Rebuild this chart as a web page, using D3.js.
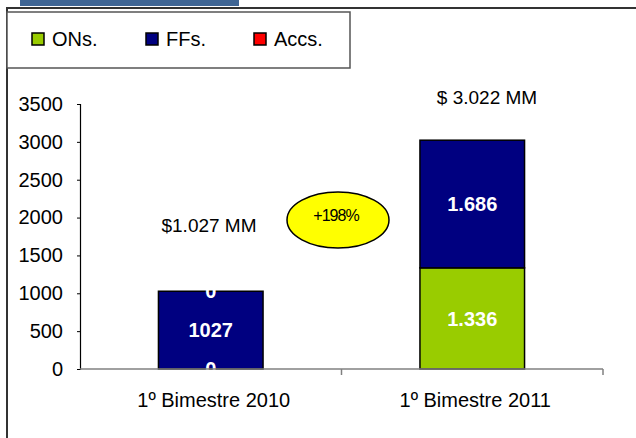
<!DOCTYPE html>
<html>
<head>
<meta charset="utf-8">
<script src="https://cdn.jsdelivr.net/npm/d3@7"></script>
<style>
  body { margin: 0; background: #fff; }
  svg text { font-family: "Liberation Sans", Arial, sans-serif; }
</style>
</head>
<body>
<div id="chart"></div>
<script>
// data
const categories = ["1º Bimestre 2010", "1º Bimestre 2011"];
const seriesNames = ["ONs.", "FFs.", "Accs."];
const seriesColors = ["#99cc00", "#000080", "#ff0000"];
const valuesONs = [0, 1336];
const valuesFFs = [1027, 1686];
const valuesAccs = [0, 0];
const labelsONs = ["0", "1.336"];
const labelsFFs = ["1027", "1.686"];
const labelsAccs = ["0", ""];
const totalLabels = ["$1.027 MM", "$ 3.022 MM"];
const growthLabel = "+198%";
const yTicks = [0, 500, 1000, 1500, 2000, 2500, 3000, 3500];

const width = 636;
const height = 438;

const svg = d3.select("#chart").append("svg")
    .attr("width", width)
    .attr("height", height);

// frame decorations
svg.append("rect")
    .attr("x", 20).attr("y", 0)
    .attr("width", 219).attr("height", 6)
    .attr("fill", "#3f6594");

svg.append("path")
    .attr("d", "M7,438 V8 H636")
    .attr("fill", "none")
    .attr("stroke", "#333")
    .attr("stroke-width", 2);

// legend
const legend = svg.append("g");
legend.append("rect")
    .attr("x", 7).attr("y", 12)
    .attr("width", 343).attr("height", 56)
    .attr("fill", "#fff")
    .attr("stroke", "#555")
    .attr("stroke-width", 1.5);

const legendX = [32, 146, 254];
seriesNames.forEach(function(name, i) {
    legend.append("rect")
        .attr("x", legendX[i]).attr("y", 33)
        .attr("width", 12).attr("height", 12)
        .attr("fill", seriesColors[i])
        .attr("stroke", "#000")
        .attr("stroke-width", 1.5);
    legend.append("text")
        .attr("x", legendX[i] + 20)
        .attr("y", 46)
        .attr("font-size", 20)
        .attr("fill", "#000")
        .text(name);
});

// scales
const xScale = d3.scaleBand()
    .domain(categories)
    .range([80, 603])
    .paddingInner(0.6)
    .paddingOuter(0.3);

const yScale = d3.scaleLinear()
    .domain([0, 3500])
    .range([369, 104]);

// stacked bars
const table = categories.map(function(c, i) {
    return { cat: c, "ONs.": valuesONs[i], "FFs.": valuesFFs[i], "Accs.": valuesAccs[i] };
});
const labelTable = [labelsONs, labelsFFs, labelsAccs];
const stacked = d3.stack().keys(seriesNames)(table);

const layers = svg.selectAll(".layer")
    .data(stacked)
    .enter()
    .append("g")
    .attr("class", "layer")
    .attr("fill", function(d, i) { return seriesColors[i]; });

layers.selectAll("rect")
    .data(function(d) { return d; })
    .enter()
    .append("rect")
    .attr("x", function(d) { return xScale(d.data.cat); })
    .attr("y", function(d) { return yScale(d[1]); })
    .attr("width", xScale.bandwidth())
    .attr("height", function(d) { return yScale(d[0]) - yScale(d[1]); })
    .attr("stroke", "#000")
    .attr("stroke-width", 1.5);

// data labels
stacked.forEach(function(layer, li) {
    svg.append("g").selectAll("text")
        .data(layer)
        .enter()
        .append("text")
        .attr("x", function(d) { return xScale(d.data.cat) + xScale.bandwidth() / 2; })
        .attr("y", function(d) { return (yScale(d[0]) + yScale(d[1])) / 2; })
        .attr("dy", "0.36em")
        .attr("text-anchor", "middle")
        .attr("font-size", 20)
        .attr("font-weight", "bold")
        .attr("fill", "#fff")
        .text(function(d, i) { return labelTable[li][i]; });
});

// y axis
const yaxis = d3.axisLeft(yScale)
    .tickValues(yTicks)
    .tickSize(3)
    .tickPadding(14)
    .tickFormat(d3.format("d"));

const gy = svg.append("g")
    .attr("transform", "translate(80,0)")
    .call(yaxis);
gy.select(".domain").attr("stroke", "#000").attr("stroke-width", 1.2);
gy.selectAll(".tick line").attr("stroke", "#000");
gy.selectAll(".tick text")
    .attr("font-size", 20)
    .attr("fill", "#000")
    .style("font-family", "Liberation Sans, Arial, sans-serif");

// x axis (ticks between categories, Excel style)
const xAxisG = svg.append("g");
xAxisG.append("line")
    .attr("x1", xScale.range()[0]).attr("x2", xScale.range()[1])
    .attr("y1", yScale(0)).attr("y2", yScale(0))
    .attr("stroke", "#808080")
    .attr("stroke-width", 1.5);

const boundaries = categories.map(function(c) {
    return xScale(c) + xScale.bandwidth() + xScale.step() * xScale.paddingInner() / 2 * (categories.indexOf(c) === categories.length - 1 ? 0 : 1);
});
boundaries[boundaries.length - 1] = xScale.range()[1];
xAxisG.selectAll(".xtick")
    .data(boundaries)
    .enter()
    .append("line")
    .attr("x1", function(d) { return d; })
    .attr("x2", function(d) { return d; })
    .attr("y1", yScale(0))
    .attr("y2", yScale(0) + 6)
    .attr("stroke", "#808080")
    .attr("stroke-width", 1.5);

xAxisG.selectAll(".xlabel")
    .data(categories)
    .enter()
    .append("text")
    .attr("x", function(d) { return xScale(d) + xScale.bandwidth() / 2 + 3; })
    .attr("y", 407)
    .attr("text-anchor", "middle")
    .attr("font-size", 20)
    .attr("fill", "#000")
    .text(function(d) { return d; });

// annotations
const totalPos = [[209, 232], [487, 104]];
svg.selectAll(".total")
    .data(totalLabels)
    .enter()
    .append("text")
    .attr("x", function(d, i) { return totalPos[i][0]; })
    .attr("y", function(d, i) { return totalPos[i][1]; })
    .attr("text-anchor", "middle")
    .attr("font-size", 19)
    .attr("fill", "#000")
    .text(function(d) { return d; });

svg.append("ellipse")
    .attr("cx", 338).attr("cy", 220)
    .attr("rx", 51).attr("ry", 28)
    .attr("fill", "#ffff00")
    .attr("stroke", "#000")
    .attr("stroke-width", 1.5);

svg.append("text")
    .attr("x", 336).attr("y", 221)
    .attr("text-anchor", "middle")
    .attr("font-size", 16)
    .attr("letter-spacing", -1)
    .attr("fill", "#000")
    .text(growthLabel);
</script>
</body>
</html>
